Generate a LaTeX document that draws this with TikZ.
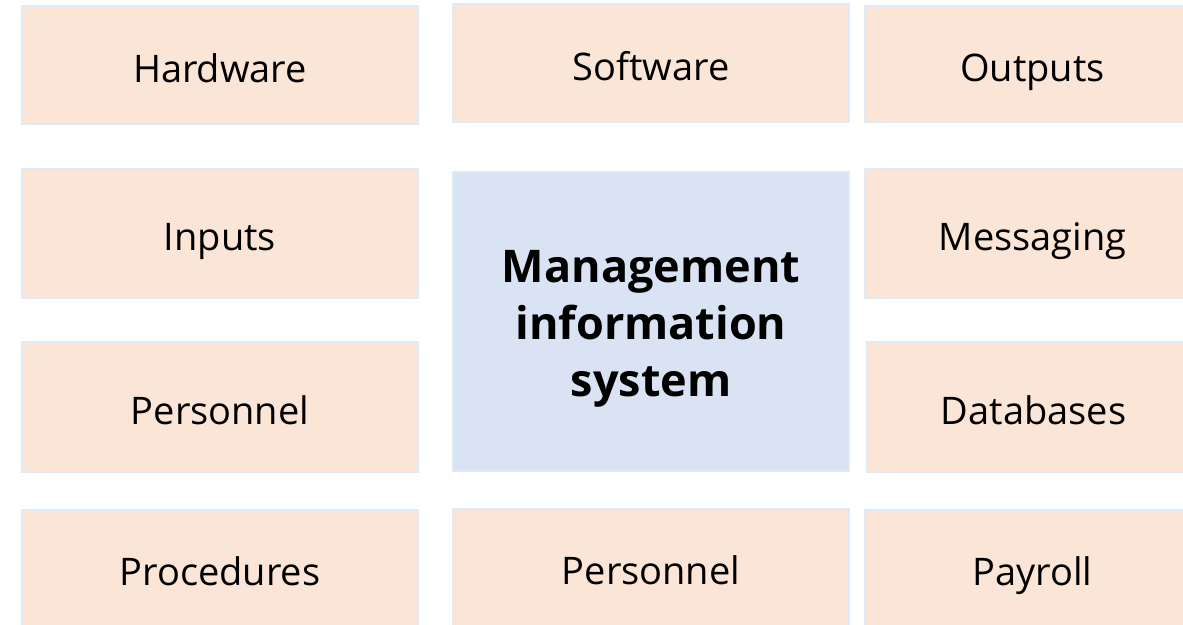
\documentclass[tikz,border=0pt]{standalone}
\usepackage{fontspec}
\setmainfont{Open Sans}
\usetikzlibrary{positioning}

\definecolor{peach}{HTML}{FBE5D6}
\definecolor{paleblue}{HTML}{DAE3F3}
\definecolor{rim}{HTML}{DEEBF7}

\begin{document}
\begin{tikzpicture}[x=1pt,y=-1pt,
                    part node/.style={rectangle,draw=rim,fill=peach,line width=1.5pt,
                      inner sep=0pt,text height=34pt,text depth=0pt,
                      font=\fontsize{38}{46}\selectfont},
                    core node/.style={rectangle,draw=rim,fill=paleblue,line width=1.5pt,
                      inner sep=0pt},
                    core text/.style={align=center,yshift=-7pt,
                      font=\fontsize{45}{57}\selectfont\bfseries}]

  \useasboundingbox (0,0) rectangle (1183,624);

  \node[part node,minimum width=396pt,minimum height=118pt] (hw) at (220,65) {Hardware};
  \node[part node,minimum width=396pt,minimum height=118pt] (sw) at (651,63) {Software};
  \node[part node,minimum width=335pt,minimum height=116pt] (out) at (1032.5,64) {Outputs};

  \node[part node,minimum width=396pt,minimum height=129pt] (in) at (220,233.5) {Inputs};
  \node[core node,minimum width=396pt,minimum height=299pt,
        label={[core text]center:Management\\information\\system}] (mis) at (651,321.5) {};
  \node[part node,minimum width=335pt,minimum height=129pt] (msg) at (1032.5,233.5) {Messaging};

  \node[part node,minimum width=396pt,minimum height=130pt] (per) at (220,407) {Personnel};
  \node[part node,minimum width=333pt,minimum height=130pt] (db) at (1033.5,407) {Databases};

  \node[part node,minimum width=396pt,minimum height=116pt] (proc) at (220,568) {Procedures};
  \node[part node,minimum width=396pt,minimum height=117pt] (staff) at (651,567.5) {Personnel};
  \node[part node,minimum width=335pt,minimum height=116pt] (pay) at (1032.5,568) {Payroll};
\end{tikzpicture}
\end{document}
